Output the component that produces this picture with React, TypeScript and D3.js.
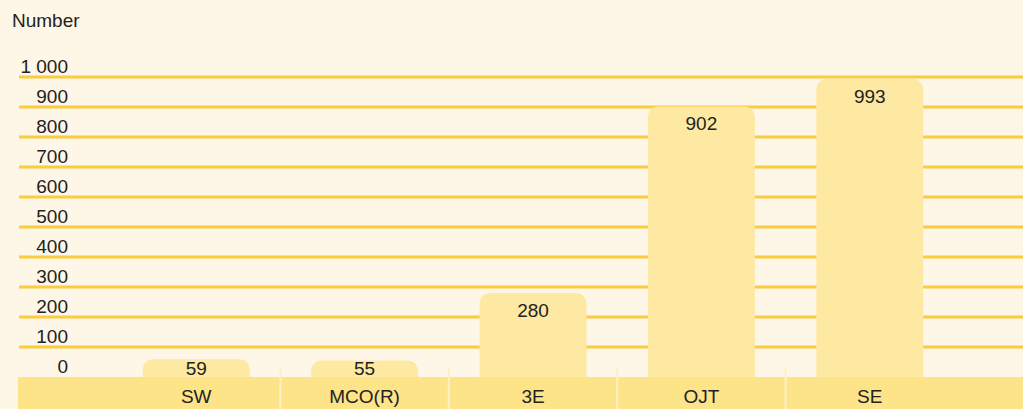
import * as d3 from "d3";
import { useEffect, useRef } from "react";

const categories = ["SW", "MCO(R)", "3E", "OJT", "SE"];
const values = [59, 55, 280, 902, 993];
const yTicks = [0, 100, 200, 300, 400, 500, 600, 700, 800, 900, 1000];

const W = 1023;
const H = 409;
const FONT = "'Liberation Sans', Arial, Helvetica, sans-serif";
const FS = 19;

const App = () => {
  const svgRef = useRef<SVGSVGElement | null>(null);

  useEffect(() => {
    const svg = d3.select(svgRef.current);
    svg.selectAll("*").remove();

    const x = d3.scaleBand().domain(categories).range([112, 954]).paddingInner(0.365).paddingOuter(0.1825);
    const y = d3.scaleLinear().domain([0, 1000]).range([377, 77]);
    const step = x.step();

    svg.append("rect").attr("width", W).attr("height", H).attr("fill", "#fef7e7");

    svg
      .append("text")
      .attr("x", 12)
      .attr("y", 27)
      .attr("font-size", FS)
      .attr("fill", "#222")
      .text("Number");

    // grid lines (0 is the band top)
    svg
      .append("g")
      .selectAll("line")
      .data(yTicks.filter((d) => d > 0))
      .join("line")
      .attr("x1", 19)
      .attr("x2", W)
      .attr("y1", (d) => y(d))
      .attr("y2", (d) => y(d))
      .attr("stroke", "#fccb3e")
      .attr("stroke-width", 3);

    svg
      .append("g")
      .selectAll("text")
      .data(yTicks)
      .join("text")
      .attr("x", 68)
      .attr("y", (d) => y(d) - 4)
      .attr("text-anchor", "end")
      .attr("font-size", FS)
      .attr("fill", "#222")
      .text((d) => d3.format(",")(d).replace(",", " "));

    const rad = 10;
    const bars = svg.append("g");
    categories.forEach((c, i) => {
      const x0 = x(c)!;
      const w = x.bandwidth();
      const top = y(values[i]);
      const bottom = y(0) + 5;
      const p = d3.path();
      p.moveTo(x0, bottom);
      p.lineTo(x0, top + rad);
      p.arcTo(x0, top, x0 + rad, top, rad);
      p.lineTo(x0 + w - rad, top);
      p.arcTo(x0 + w, top, x0 + w, top + rad, rad);
      p.lineTo(x0 + w, bottom);
      p.closePath();
      bars.append("path").attr("d", p.toString()).attr("fill", "#fee9a2");
    });

    // category band
    svg.append("rect").attr("x", 18).attr("y", y(0)).attr("width", W - 18).attr("height", H - y(0)).attr("fill", "#fde488");

    svg
      .append("g")
      .selectAll("line")
      .data(categories.slice(1))
      .join("line")
      .attr("x1", (d) => x(d)! - (step - x.bandwidth()) / 2)
      .attr("x2", (d) => x(d)! - (step - x.bandwidth()) / 2)
      .attr("y1", y(0) - 9)
      .attr("y2", H)
      .attr("stroke", "#fdf0c8")
      .attr("stroke-width", 2);

    // value labels, kept above the band for short bars
    svg
      .append("g")
      .selectAll("text")
      .data(values)
      .join("text")
      .attr("x", (_, i) => x(categories[i])! + x.bandwidth() / 2)
      .attr("y", (d) => Math.min(y(d) + 24, y(0) - 2))
      .attr("text-anchor", "middle")
      .attr("font-size", FS)
      .attr("fill", "#222")
      .text((d) => d);

    svg
      .append("g")
      .selectAll("text")
      .data(categories)
      .join("text")
      .attr("x", (d) => x(d)! + x.bandwidth() / 2)
      .attr("y", 403)
      .attr("text-anchor", "middle")
      .attr("font-size", FS)
      .attr("fill", "#222")
      .text((d) => d);
  }, []);

  return (
    <svg
      ref={svgRef}
      width={W}
      height={H}
      style={{ position: "absolute", left: 0, top: 0, fontFamily: FONT }}
    />
  );
};

export default App;
